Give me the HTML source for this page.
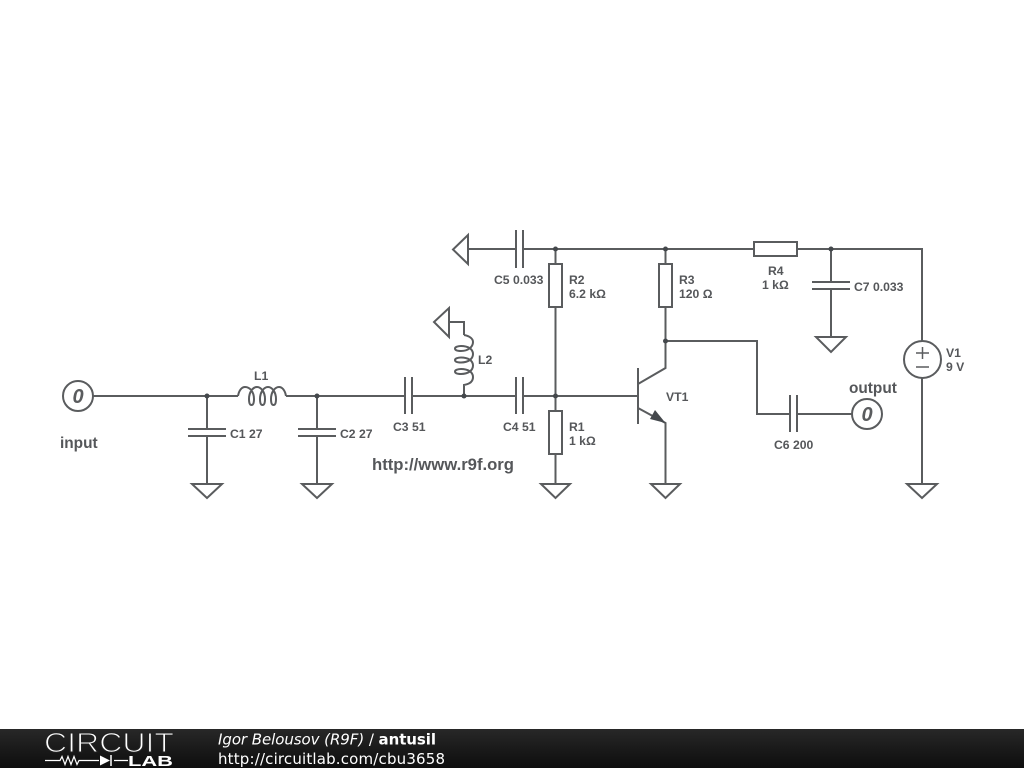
<!DOCTYPE html>
<html><head><meta charset="utf-8"><style>
html,body{margin:0;padding:0;background:#fff;width:1024px;height:768px;overflow:hidden}
svg{display:block}
.w{fill:none;stroke:#5a5c5e;stroke-width:2;stroke-linejoin:miter}
.t{font-family:"Liberation Sans",sans-serif;font-weight:bold;font-size:12.2px;fill:#55575a}
.b{font-family:"Liberation Sans",sans-serif;font-weight:bold;font-size:15.400px;fill:#55575a}
.z{font-family:"Liberation Sans",sans-serif;font-weight:bold;font-style:italic;font-size:20px;fill:#5a5c5e;text-anchor:middle}
.f{font-family:"DejaVu Sans",sans-serif;font-size:15px;fill:#fff}
</style></head><body>
<svg width="1024" height="768" viewBox="0 0 1024 768" xmlns="http://www.w3.org/2000/svg">
<defs><linearGradient id="g" x1="0" y1="0" x2="0" y2="1"><stop offset="0" stop-color="#282828"/><stop offset="0.5" stop-color="#1a1a1a"/><stop offset="1" stop-color="#0e0e0e"/></linearGradient></defs>
<g class="w">
<!-- input line -->
<circle cx="78" cy="396" r="15"/>
<path d="M93 396H238"/>
<path d="M238 396C239 390 242 387 245 387C250 387 254 392 254 399C254 403 253 405 251.500 405C250 405 249 403 249 399C249 392 253 387 257 387C261 387 265 392 265 399C265 403 264 405 262.500 405C261 405 260 403 260 399C260 392 264 387 268 387C272 387 276 392 276 399C276 403 275 405 273.500 405C272 405 271 403 271 399C271 392 275 387 279 387C282 387 285 390 286 396"/>
<path d="M286 396H405M412 396H516M523 396H638"/>
<!-- C1 -->
<path d="M207 396V429M188 429H226M188 436H226M207 436V484"/>
<path d="M192 484H222L207 498Z"/>
<!-- C2 -->
<path d="M317 396V429M298 429H336M298 436H336M317 436V484"/>
<path d="M302 484H332L317 498Z"/>
<!-- C3 C4 -->
<path d="M405 377V414M412 377V414M516 377V414M523 377V414"/>
<!-- L2 -->
<path d="M449 322H464V335"/>
<path d="M464 335C470 336 473 339 473 342C473 347 468 351 461 351C457 351 455 350 455 348.500C455 347 458 346 461 346C468 346 473 349 473 354C473 359 468 362.500 461 362.500C457 362.500 455 361.500 455 360C455 358.500 458 357.500 461 357.500C468 357.500 473 360.500 473 365.500C473 370.500 468 374 461 374C457 374 455 373 455 371.500C455 370 458 369 461 369C468 369 473 372 473 377C473 381 470 384 464 385V396"/>
<path d="M449 308V337L434 322Z"/>
<!-- top rail -->
<path d="M468 249H516M523 249H754M797 249H922V341"/>
<path d="M516 230V268M523 230V268"/>
<path d="M468 235V264L453 249.500Z"/>
<!-- R2 R1 -->
<path d="M555.500 249V264M555.500 307V411M555.500 454V484"/>
<rect x="549" y="264" width="13" height="43"/>
<rect x="549" y="411" width="13" height="43"/>
<path d="M541 484H570L555.500 498Z"/>
<!-- R3 -->
<path d="M665.500 249V264M665.500 307V368L638 384M638 368V424M638 408L665.500 423V484"/>
<rect x="659" y="264" width="13" height="43"/>
<path d="M651 484H680L665.500 498Z"/>
<!-- R4 -->
<rect x="754" y="242" width="43" height="14"/>
<!-- C7 -->
<path d="M831 249V282M812 282H850M812 289H850M831 289V337"/>
<path d="M816 337H846L831 352Z"/>
<!-- V1 -->
<circle cx="922.500" cy="359.500" r="18.500"/>
<path d="M922 378V484M907 484H937L922 498Z"/>
<path d="M916 353H929M922.500 347V359M916 367H929" style="stroke-width:1.500"/>
<!-- output -->
<path d="M665 341H757V414H790M797 414H852M790 395V432M797 395V432"/>
<circle cx="867" cy="414" r="15"/>
</g>
<path d="M665.500 423L650 419L655 410Z" fill="#44484c"/>
<g fill="#44484c">
<circle cx="207" cy="396" r="2.500"/><circle cx="317" cy="396" r="2.500"/><circle cx="464" cy="396" r="2.500"/><circle cx="555.500" cy="396" r="2.500"/>
<circle cx="555.500" cy="249" r="2.500"/><circle cx="665.500" cy="249" r="2.500"/><circle cx="831" cy="249" r="2.500"/><circle cx="665.500" cy="341" r="2.500"/>
</g>
<text class="z" x="78" y="403">0</text>
<text class="z" x="867" y="421">0</text>
<text class="b" x="60" y="448">input</text>
<text class="b" x="849" y="393">output</text>
<text x="372" y="470" textLength="142" style="font-family:'Liberation Sans',sans-serif;font-weight:bold;font-size:16.700px;fill:#55575a">http://www.r9f.org</text>
<text class="t" x="254" y="380">L1</text>
<text class="t" x="230" y="438">C1 27</text>
<text class="t" x="340" y="438">C2 27</text>
<text class="t" x="393" y="431">C3 51</text>
<text class="t" x="503" y="431">C4 51</text>
<text class="t" x="478" y="364">L2</text>
<text class="t" x="494" y="284">C5 0.033</text>
<text class="t" x="569" y="284">R2</text>
<text class="t" x="569" y="298">6.2 kΩ</text>
<text class="t" x="569" y="431">R1</text>
<text class="t" x="569" y="445">1 kΩ</text>
<text class="t" x="679" y="284">R3</text>
<text class="t" x="679" y="298">120 Ω</text>
<text class="t" x="768" y="275">R4</text>
<text class="t" x="762" y="289">1 kΩ</text>
<text class="t" x="854" y="291">C7 0.033</text>
<text class="t" x="946" y="357">V1</text>
<text class="t" x="946" y="371">9 V</text>
<text class="t" x="666" y="401">VT1</text>
<text class="t" x="774" y="449">C6 200</text>
<!-- footer -->
<rect x="0" y="729" width="1024" height="39" fill="url(#g)"/>
<text x="44" y="752" textLength="130" lengthAdjust="spacingAndGlyphs" style="font-family:'Liberation Sans',sans-serif;font-size:27.500px;fill:#fff;stroke:#222;stroke-width:1.100">CIRCUIT</text>
<path d="M45 760.500H60l2-4 3 8 3-8 3 8 3-8 3 8 2-4H99M114 760.500H128" fill="none" stroke="#fff" stroke-width="1.200"/>
<path d="M100 755.500V765.500L110 760.500Z" fill="#fff"/>
<path d="M111 755V766" stroke="#fff" stroke-width="1.500"/>
<text x="128" y="766" textLength="45" lengthAdjust="spacingAndGlyphs" style="font-family:'Liberation Sans',sans-serif;font-weight:bold;font-size:15px;fill:#fff">LAB</text>
<text class="f" x="218" y="744.500" textLength="218"><tspan font-style="italic">Igor Belousov (R9F)</tspan> / <tspan font-weight="bold">antusil</tspan></text>
<text class="f" x="218" y="764" textLength="227">http://circuitlab.com/cbu3658</text>
</svg>
</body></html>
